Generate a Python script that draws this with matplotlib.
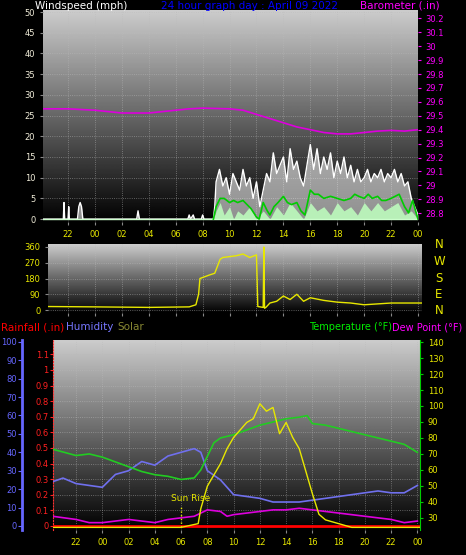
import numpy as np
import matplotlib
matplotlib.use("Agg")
import matplotlib.pyplot as plt

# ---- data (hours relative to midnight; -2 = 22:00 previous day, 24 = 00:00 next) ----
tick_hours = [-2, 0, 2, 4, 6, 8, 10, 12, 14, 16, 18, 20, 22, 24]
tick_labels = ["22", "00", "02", "04", "06", "08", "10", "12", "14", "16", "18", "20", "22", "00"]

gust_t = [-3.9, -2.35, -2.3, -2.25, -2.0, -1.95, -1.9, -1.3, -1.2, -1.1, -1.0, -0.9, 3.1, 3.2, 3.3,
          6.9, 7.0, 7.1, 7.3, 7.4, 7.9, 8.0, 8.1, 8.8, 8.9,
          9.0, 9.25, 9.5, 9.75, 10.0, 10.25, 10.5, 10.75, 11.0, 11.25, 11.5, 11.75, 12.0, 12.25, 12.5, 12.75,
          13.0, 13.25, 13.5, 13.75, 14.0, 14.25, 14.5, 14.75, 15.0, 15.25, 15.5, 15.75, 16.0, 16.25, 16.5,
          16.75, 17.0, 17.25, 17.5, 17.75, 18.0, 18.25, 18.5, 18.75, 19.0, 19.25, 19.5, 19.75, 20.0, 20.25,
          20.5, 20.75, 21.0, 21.25, 21.5, 21.75, 22.0, 22.25, 22.5, 22.75, 23.0, 23.25, 23.5, 23.75, 24.0]
gust_v = [0, 0, 4, 0, 0, 3, 0, 0, 3, 4, 3, 0, 0, 2, 0,
          0, 1, 0, 1, 0, 0, 1, 0, 0, 3,
          9, 12, 8, 10, 6, 11, 9, 7, 12, 8, 10, 5, 9, 3, 7, 11,
          9, 16, 11, 13, 15, 9, 17, 12, 14, 10, 8, 13, 18, 12, 17,
          11, 15, 12, 16, 10, 14, 11, 15, 10, 13, 9, 12, 9, 10, 12,
          9, 11, 10, 12, 9, 11, 10, 12, 9, 11, 8, 9, 5, 3, 1]
avg_t = [8.8, 9.0, 9.3, 9.6, 10.0, 10.3, 10.6, 11.0, 11.3, 11.6, 12.0, 12.2, 12.5, 12.8, 13.0, 13.3,
         13.6, 14.0, 14.3, 14.6, 15.0, 15.3, 15.6, 16.0, 16.3, 16.6, 17.0, 17.5, 18.0, 18.5, 19.0, 19.3,
         19.6, 20.0, 20.3, 20.6, 21.0, 21.3, 21.6, 22.0, 22.3, 22.6, 23.0, 23.3, 23.6, 24.0]
avg_v = [0, 3, 5, 5, 4, 4.5, 4, 4.5, 3.5, 2.5, 0.5, 0, 4, 2, 1, 3,
         4, 5.5, 4, 3.5, 4, 2, 1, 7, 6, 6, 5, 5.5, 5, 4.5, 5, 6,
         5.5, 5, 6, 5, 5.5, 4.5, 4.5, 5, 5.5, 6, 3, 1.5, 4.5, 0]
lull_t = [8.8, 9.0, 9.3, 9.6, 10.0, 10.3, 10.6, 11.0, 11.5, 12.0, 12.5, 13.0, 13.5, 14.0, 14.5, 15.0,
          15.5, 16.0, 16.5, 17.0, 17.5, 18.0, 18.5, 19.0, 19.5, 20.0, 20.5, 21.0, 21.5, 22.0, 22.5, 23.0, 23.5, 24.0]
lull_v = [0, 2, 4, 1, 3, 0, 2, 1, 3, 0, 2, 0, 3, 1, 4, 2,
          0, 4, 2, 3, 1, 4, 2, 3, 1, 4, 2, 4, 2, 3, 4, 1, 2, 0]

baro_t = [-3.9, -2, 0, 1, 2, 4, 6, 7, 8, 10, 11, 12, 13, 14, 15, 16, 17, 18, 19, 20, 21, 22, 23, 24]
baro_v = [29.55, 29.55, 29.54, 29.53, 29.52, 29.52, 29.54, 29.55, 29.555, 29.55, 29.54, 29.51, 29.48,
          29.45, 29.42, 29.40, 29.38, 29.37, 29.37, 29.38, 29.39, 29.395, 29.39, 29.40]

dir_t = [-3.5, 0, 4, 7.0, 7.5, 7.7, 7.8, 8.5, 8.9, 9.3, 9.5, 10.0, 10.5, 11.0, 11.5, 12.0, 12.1, 12.5,
         12.55, 12.6, 12.7, 13.0, 13.5, 14.0, 14.5, 15.0, 15.5, 16.0, 17.0, 18.0, 19.0, 20.0, 22.0, 24.3]
dir_v = [20, 18, 15, 18, 30, 90, 180, 200, 210, 290, 300, 305, 310, 320, 300, 315, 20, 15,
         360, 10, 15, 40, 50, 80, 60, 90, 50, 70, 55, 45, 40, 30, 40, 40]

temp_t = [-3.8, -2, -1, 0, 1, 2, 3, 4, 5, 6, 7, 7.5, 8.5, 9, 10, 11, 12, 13, 14, 15, 15.6, 16, 17, 18,
          19, 20, 21, 22, 23, 24]
temp_v = [73, 69, 70, 68, 65, 62, 59, 57, 56, 54, 55, 60, 77, 80, 82, 85, 88, 90, 92, 93, 94, 89, 88,
          86, 84, 82, 80, 78, 76, 71]
hum_t = [-3.8, -3, -2, -1, 0, 1, 2, 3, 4, 5, 6, 7, 7.5, 8, 9, 10, 11, 12, 13, 14, 15, 16, 17, 18, 19,
         20, 21, 22, 23, 24]
hum_v = [24, 26, 23, 22, 21, 28, 30, 35, 33, 38, 40, 42, 40, 30, 25, 17, 16, 15, 13, 13, 13, 14, 15,
         16, 17, 18, 19, 18, 18, 22]
dew_t = [-3.8, -2, -1, 0, 1, 2, 3, 4, 5, 6, 7, 8, 9, 9.5, 10, 11, 12, 13, 14, 15, 16, 17, 18, 19, 20,
         22, 23, 24]
dew_v = [31, 29, 27, 27, 28, 29, 28, 27, 29, 30, 31, 35, 34, 31, 32, 33, 34, 35, 35, 36, 35, 34, 33,
         32, 31, 29, 27, 28]
solar_t = [-3.8, 6, 7.3, 7.5, 8, 9, 9.5, 10, 11, 11.5, 12, 12.5, 13, 13.5, 14, 14.5, 15, 15.5, 16,
           16.5, 17, 17.5, 18, 19, 24.2]
solar_v = [0, 0, 20, 100, 220, 340, 420, 480, 560, 580, 660, 620, 640, 500, 560, 480, 420, 300, 180,
           70, 40, 30, 20, 0, 0]
rain_t = [-3.8, 24.2]
rain_v = [0, 0]

W, H = 466, 555
fig = plt.figure(figsize=(W / 100, H / 100), dpi=100, facecolor="black")

def rect(l, t, r, b):
    return [l / W, 1 - b / H, (r - l) / W, (b - t) / H]

grad = np.linspace(0.80, 0.0, 256).reshape(-1, 1)

def style(ax):
    ax.set_facecolor("black")
    ax.imshow(grad, aspect="auto", cmap="gray", vmin=0, vmax=1,
              extent=[0, 1, 0, 1], transform=ax.transAxes, zorder=0)
    ax.grid(True, color="#bbbbbb", linestyle=":", linewidth=0.6, alpha=0.6)
    for s in ax.spines.values():
        s.set_visible(False)
    ax.set_xticks(tick_hours)
    ax.set_xticklabels(tick_labels)
    ax.tick_params(colors="#888888", labelsize=6, length=2)
    for lab in ax.get_xticklabels():
        lab.set_color("#e8e800")

tick_col = "#f0ecd8"

# ---- panel 1: wind / barometer ----
ax1 = fig.add_axes(rect(43, 10, 418, 222))
style(ax1)
ax1.set_xlim(-3.86, 24)
ax1.set_ylim(-0.7, 50.5)
ax1.set_yticks(range(0, 51, 5))
for lab in ax1.get_yticklabels():
    lab.set_color(tick_col)
ax1.fill_between(gust_t, 0, gust_v, color="#f0f0f0", alpha=0.6, lw=0, zorder=2)
ax1.plot(gust_t, gust_v, color="white", lw=1.0, zorder=3)
ax1.fill_between(lull_t, 0, lull_v, color="#b8f0b8", lw=0, zorder=4)
ax1.plot(avg_t, avg_v, color="#00cc00", lw=1.2, zorder=5)
ax1.axhline(0, color="#ccffcc", lw=1, zorder=4)
axb = ax1.twinx()
axb.set_ylim(28.737, 30.26)
axb.set_yticks([28.8, 28.9, 29.0, 29.1, 29.2, 29.3, 29.4, 29.5, 29.6, 29.7, 29.8, 29.9, 30.0, 30.1, 30.2])
axb.set_yticklabels(["28.8", "28.9", "29", "29.1", "29.2", "29.3", "29.4", "29.5", "29.6", "29.7",
                     "29.8", "29.9", "30", "30.1", "30.2"])
axb.tick_params(colors="#ff00ff", labelsize=6, length=2)
for s in axb.spines.values():
    s.set_visible(False)
axb.plot(baro_t, baro_v, color="#dd00dd", lw=1.2, zorder=6)

fig.text(35 / W, 1 - 6 / H, "Windspeed (mph)", color="white", fontsize=7.5, va="center")
fig.text(250 / W, 1 - 6 / H, "24 hour graph day : April 09 2022", color="#0000ff", fontsize=7.5,
         va="center", ha="center")
fig.text(440 / W, 1 - 6 / H, "Barometer (.in)", color="#ff00ff", fontsize=7.5, va="center", ha="right")

# ---- panel 2: wind direction ----
ax2 = fig.add_axes(rect(48, 244, 422, 313))
style(ax2)
ax2.set_xlim(-3.49, 24.3)
ax2.set_ylim(-17, 377)
ax2.set_yticks([0, 90, 180, 270, 360])
ax2.set_xticklabels([])
for lab in ax2.get_yticklabels():
    lab.set_color("#e8e800")
ax2.plot(dir_t, dir_v, color="#e8e800", lw=1.0, zorder=3)
for i, c in enumerate(["N", "W", "S", "E", "N"]):
    fig.text(439 / W, 1 - (245 + i * 16.5) / H, c, color="#e8e800", fontsize=8.5, ha="center", va="center")

# ---- panel 3: humidity / rain / temperature / solar ----
ax3 = fig.add_axes(rect(53, 340, 420, 530))
style(ax3)
ax3.set_xlim(-3.76, 24.2)
ax3.set_ylim(-0.026, 1.192)
ax3.set_yticks([0, 0.1, 0.2, 0.3, 0.4, 0.5, 0.6, 0.7, 0.8, 0.9, 1.0, 1.1])
ax3.set_yticklabels(["0", "0.1", "0.2", "0.3", "0.4", "0.5", "0.6", "0.7", "0.8", "0.9", "1", "1.1"])
ax3.tick_params(axis="y", colors="#ff2020", labelsize=6, length=2, pad=1)
ax3.spines["left"].set_visible(True)
ax3.spines["left"].set_color("#ff3030")
ax3.spines["left"].set_linestyle(":")
for lab in ax3.get_yticklabels():
    lab.set_color("#ff2020")

axh = ax3.twinx()
axh.set_ylim(-2.2, 101)
axh.yaxis.set_ticks_position("left")
axh.spines["left"].set_position(("outward", 22))
for s in axh.spines.values():
    s.set_visible(False)
axh.spines["left"].set_visible(True)
axh.spines["left"].set_color("#6666ff")
axh.spines["left"].set_linewidth(2)
axh.set_yticks(range(0, 101, 10))
axh.tick_params(axis="y", colors="#6666ff", labelsize=6, length=3, pad=1)
axh.plot(hum_t, hum_v, color="#7070ee", lw=1.2, zorder=3)

axt = ax3.twinx()
axt.set_ylim(22.4, 141.3)
axt.set_yticks(range(30, 141, 10))
axt.tick_params(axis="y", colors="#00cc00", labelsize=6, length=2)
for s in axt.spines.values():
    s.set_visible(False)
axt.spines["right"].set_visible(True)
axt.spines["right"].set_color("#00cc00")
for lab in axt.get_yticklabels():
    lab.set_color("#e8e800")
axt.plot(temp_t, temp_v, color="#22cc22", lw=1.2, zorder=3)
axt.plot(dew_t, dew_v, color="#dd00dd", lw=1.2, zorder=3)

axs = ax3.twinx()
axs.set_ylim(-14, 1000)
axs.set_yticks([])
for s in axs.spines.values():
    s.set_visible(False)
axs.plot(solar_t, solar_v, color="#e8e800", lw=1.0, zorder=4)
axs.plot([6, 6], [0, 120], color="#e8e800", lw=1, linestyle=":")
axs.text(6.7, 130, "Sun Rise", color="#e8e800", fontsize=6.5, ha="center", va="bottom")
ax3.plot(rain_t, rain_v, color="#ff0000", lw=2, zorder=5)

fig.text(1 / W, 1 - 327 / H, "Rainfall (.in)", color="#ff0000", fontsize=7.5, va="center")
fig.text(66 / W, 1 - 327 / H, "Humidity", color="#7777ff", fontsize=7.5, va="center")
fig.text(117 / W, 1 - 327 / H, "Solar", color="#888833", fontsize=7.5, va="center")
fig.text(392 / W, 1 - 327 / H, "Temperature (°F)", color="#00ee00", fontsize=7, va="center", ha="right")
fig.text(392 / W, 1 - 327 / H, "Dew Point (°F)", color="#ff00ff", fontsize=7, va="center", ha="left")

fig.savefig("out.png", dpi=100, facecolor="black")
